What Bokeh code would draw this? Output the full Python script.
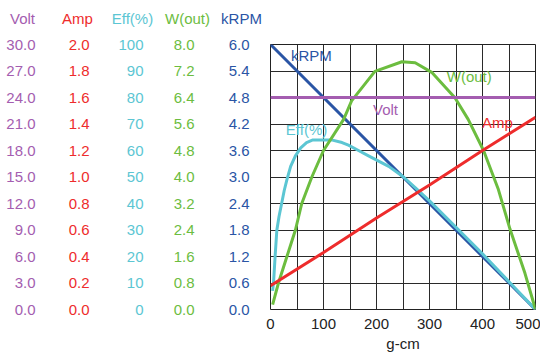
from bokeh.plotting import figure
from bokeh.layouts import column
from bokeh.models import (Range1d, LinearAxis, FixedTicker, PrintfTickFormatter, Label)
from bokeh.core.properties import value
from bokeh.embed import file_html
from bokeh.resources import INLINE

# ---- data ----
volt_x = [0, 500]
volt = [24.0, 24.0]
krpm_x = [0, 500]
krpm = [6.0, 0.0]
amp_x = [0, 100, 200, 300, 400, 500]
amp = [0.18, 0.43, 0.69, 0.94, 1.20, 1.45]
eff_x = [4, 6, 9, 12, 16, 21, 26, 31, 38, 47, 57, 68, 80, 100, 115, 135, 147, 166, 185, 204, 223, 251, 273, 300, 350, 400, 450, 500]
eff = [7, 11, 21, 30, 35, 40, 45, 49, 54, 58, 61, 63, 64, 64, 64, 63, 62, 60, 58, 56, 54, 50, 46, 41, 31, 21, 10.5, 0]
w_x = [4, 15, 31, 47, 59, 78, 100, 138, 153, 197, 248, 273, 305, 348, 373, 402, 430, 452, 480, 500]
w_out = [0.15, 0.8, 1.6, 2.4, 3.2, 4.0, 4.8, 5.74, 6.3, 7.19, 7.48, 7.45, 7.15, 6.39, 5.74, 4.8, 3.62, 2.42, 1.1, 0.0]

series_names = ["Volt", "Amp", "Eff(%)", "W(out)", "kRPM"]
x_ticks = [0, 100, 200, 300, 400, 500]
volt_ticks = [0.0, 3.0, 6.0, 9.0, 12.0, 15.0, 18.0, 21.0, 24.0, 27.0, 30.0]
amp_ticks = [0.0, 0.2, 0.4, 0.6, 0.8, 1.0, 1.2, 1.4, 1.6, 1.8, 2.0]
eff_ticks = [0, 10, 20, 30, 40, 50, 60, 70, 80, 90, 100]
w_ticks = [0.0, 0.8, 1.6, 2.4, 3.2, 4.0, 4.8, 5.6, 6.4, 7.2, 8.0]
krpm_ticks = [0.0, 0.6, 1.2, 1.8, 2.4, 3.0, 3.6, 4.2, 4.8, 5.4, 6.0]

C_VOLT = "#a45db0"
C_AMP = "#ee2c2c"
C_EFF = "#5cc6d3"
C_W = "#6cbd3f"
C_KRPM = "#2a55a5"
colors = [C_VOLT, C_AMP, C_EFF, C_W, C_KRPM]
FONT = "Liberation Sans"
FS = "15px"

# ---- header strip with the column titles ----
head = figure(width=540, height=30, output_backend="svg", toolbar_location=None,
              x_range=Range1d(0, 540), y_range=Range1d(0, 30), min_border=0)
head.frame_align = False
head.axis.visible = False
head.grid.visible = False
head.outline_line_color = None
head_x = [22, 77, 132, 187, 241]
head.text(x=head_x, y=[12] * 5, text=series_names, text_color=colors,
          text_font=value(FONT), text_font_size=FS, text_align="center",
          text_baseline="middle")

# ---- main chart ----
p = figure(frame_width=265, frame_height=265, output_backend="svg", toolbar_location=None,
           x_range=Range1d(0, 500), y_range=Range1d(0, 6),
           min_border_left=270, min_border_right=5, min_border_top=14, min_border_bottom=44)
p.frame_align = False
p.outline_line_color = "#222222"
p.outline_line_width = 1

p.extra_y_ranges = {
    "volt": Range1d(0, 30),
    "amp": Range1d(0, 2),
    "eff": Range1d(0, 100),
    "w": Range1d(0, 8),
}

def style_axis(ax, color, ticks, fmt, standoff):
    ax.ticker = FixedTicker(ticks=ticks)
    ax.formatter = PrintfTickFormatter(format=fmt)
    ax.axis_line_color = None
    ax.major_tick_line_color = None
    ax.minor_tick_line_color = None
    ax.major_tick_out = 0
    ax.major_tick_in = 0
    ax.major_label_text_color = color
    ax.major_label_text_font = FONT
    ax.major_label_text_font_size = FS
    ax.major_label_standoff = standoff

style_axis(p.yaxis[0], C_KRPM, krpm_ticks, "%.1f", 21)
ax_w = LinearAxis(y_range_name="w")
style_axis(ax_w, C_W, w_ticks, "%.1f", 31)
p.add_layout(ax_w, "left")
ax_eff = LinearAxis(y_range_name="eff")
style_axis(ax_eff, C_EFF, eff_ticks, "%d", 27)
p.add_layout(ax_eff, "left")
ax_amp = LinearAxis(y_range_name="amp")
style_axis(ax_amp, C_AMP, amp_ticks, "%.1f", 26)
p.add_layout(ax_amp, "left")
ax_volt = LinearAxis(y_range_name="volt")
style_axis(ax_volt, C_VOLT, volt_ticks, "%.1f", 30)
p.add_layout(ax_volt, "left")

xa = p.xaxis[0]
xa.ticker = FixedTicker(ticks=x_ticks)
xa.axis_line_color = None
xa.major_tick_line_color = None
xa.minor_tick_line_color = None
xa.major_tick_out = 0
xa.major_tick_in = 0
xa.major_label_text_font = FONT
xa.major_label_text_font_size = FS
xa.major_label_text_color = "#222222"
xa.major_label_standoff = 9
xa.axis_label = "g-cm"
xa.axis_label_text_font = FONT
xa.axis_label_text_font_size = FS
xa.axis_label_text_font_style = "normal"
xa.axis_label_text_color = "#222222"
xa.axis_label_standoff = 3

p.xgrid[0].ticker = FixedTicker(ticks=list(range(0, 501, 50)))
p.ygrid[0].ticker = FixedTicker(ticks=krpm_ticks)
for g in (p.xgrid[0], p.ygrid[0]):
    g.grid_line_color = "#2a2a2a"
    g.grid_line_width = 1

LW = 3
p.line(krpm_x, krpm, color=C_KRPM, line_width=LW)
p.line(eff_x, eff, color=C_EFF, line_width=LW, y_range_name="eff")
p.line(w_x, w_out, color=C_W, line_width=LW, y_range_name="w")
p.line(amp_x, amp, color=C_AMP, line_width=LW, y_range_name="amp")
p.line(volt_x, volt, color=C_VOLT, line_width=LW, y_range_name="volt")

inplot = [("kRPM", C_KRPM, 77, 5.75), ("W(out)", C_W, 375, 5.27), ("Volt", C_VOLT, 217, 4.53),
          ("Eff(%)", C_EFF, 68, 4.07), ("Amp", C_AMP, 428, 4.23)]
for txt, col, xx, yy in inplot:
    p.add_layout(Label(x=xx, y=yy, text=txt, text_color=col, text_font=FONT,
                       text_font_size=FS, text_align="center", text_baseline="middle"))

layout = column(head, p, spacing=0)
open("out.html", "w").write(file_html(layout, INLINE))
